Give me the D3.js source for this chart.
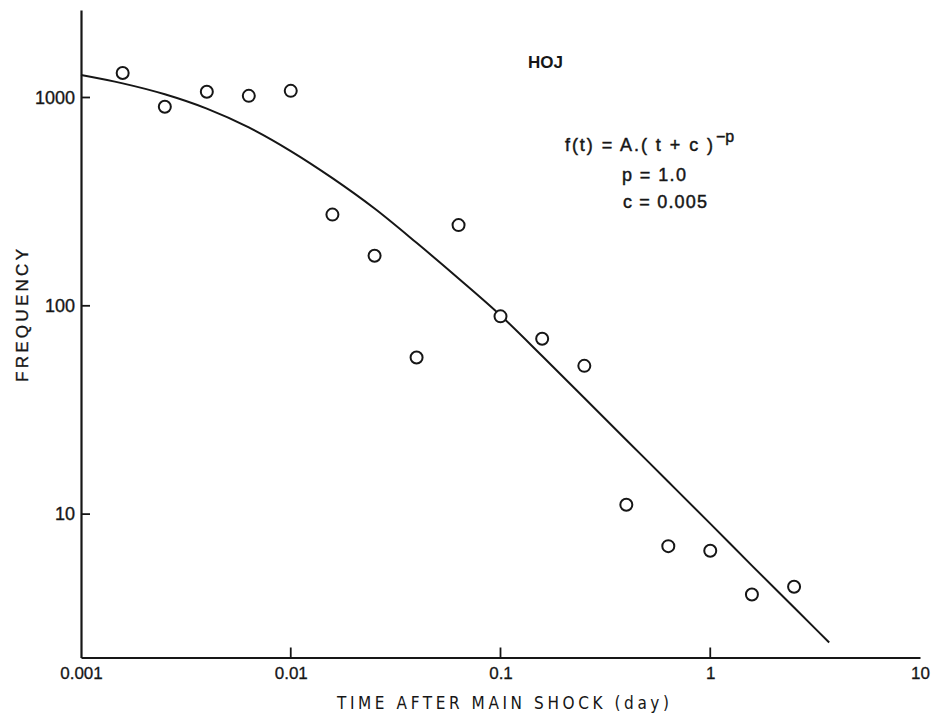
<!DOCTYPE html>
<html>
<head>
<meta charset="utf-8">
<script src="https://cdn.jsdelivr.net/npm/d3@7"></script>
<style>
  html, body { margin: 0; padding: 0; background: #fff; }
  svg { display: block; }
  text { fill: #161616; font-family: "Liberation Sans", Arial, sans-serif; }
</style>
</head>
<body>
<svg id="chart" width="931" height="716"></svg>
<script>
// ---- data ----
const timeDays = [0.00158, 0.00251, 0.00398, 0.00631, 0.01, 0.0158, 0.0251, 0.0398, 0.0631, 0.1,
                  0.158, 0.251, 0.398, 0.631, 1.0, 1.58, 2.51];
const frequency = [1310, 902, 1065, 1018, 1076, 274, 174, 56.5, 244, 89,
                   69.5, 51.5, 11.1, 7.02, 6.67, 4.11, 4.48];

// fitted curve f(t) = A (t + c)^-p
const curveTime = [0.001, 0.00158, 0.00251, 0.00398, 0.00631, 0.01, 0.0158, 0.0251, 0.0398, 0.0631,
                   0.1, 0.158, 0.251, 0.398, 0.631, 1.0, 1.58, 2.51, 3.69];
const curveFreq = [1282, 1169, 1036, 884, 718, 553, 410, 293, 200.6, 135.3,
                   90.0, 57.4, 36.1, 22.7, 14.3, 9.0, 5.66, 3.56, 2.42];

const xTickValues = [0.001, 0.01, 0.1, 1, 10];
const xTickLabels = ["0.001", "0.01", "0.1", "1", "10"];
const yTickValues = [10, 100, 1000];
const yTickLabels = ["10", "100", "1000"];

const titleText = "HOJ";
const formulaMain = "f(t) = A.( t + c )";
const formulaExp = "\u2212p";
const paramP = "p = 1.0";
const paramC = "c = 0.005";
const xAxisTitle = "TIME AFTER MAIN SHOCK (day)";
const yAxisTitle = "FREQUENCY";

// ---- scales ----
const svg = d3.select("#chart");
const x = d3.scaleLog().domain([0.001, 10]).range([81, 920]);
const y = d3.scaleLog().domain([2.05, 2630]).range([657.5, 10]);

const ink = "#161616";

// ---- axes ----
const xAxis = d3.axisBottom(x)
  .tickValues(xTickValues)
  .tickSize(0)
  .tickPadding(0)
  .tickFormat((d, i) => xTickLabels[i]);
const gx = svg.append("g").attr("transform", `translate(0,${y(2.05)})`).call(xAxis);
gx.select(".domain").attr("stroke", ink).attr("stroke-width", 2.2);
gx.selectAll(".tick line").remove();
gx.selectAll(".tick text")
  .attr("y", 21.5).attr("dy", 0)
  .style("font-size", "17px")
  .style("font-family", "'Liberation Sans', Arial, sans-serif")
  .attr("fill", ink).attr("stroke", ink).attr("stroke-width", 0.3);
// inward tick marks on x axis (skip the corner and far end)
svg.append("g").selectAll("line")
  .data(xTickValues.filter(v => v > 0.001 && v < 10))
  .join("line")
  .attr("x1", d => x(d)).attr("x2", d => x(d))
  .attr("y1", y(2.05)).attr("y2", y(2.05) - 10)
  .attr("stroke", ink).attr("stroke-width", 1.8);

const yAxis = d3.axisLeft(y)
  .tickValues(yTickValues)
  .tickSize(0)
  .tickPadding(6)
  .tickFormat((d, i) => yTickLabels[i]);
const gy = svg.append("g").attr("transform", `translate(${x(0.001)},0)`).call(yAxis);
gy.select(".domain").attr("stroke", ink).attr("stroke-width", 2.2);
gy.selectAll(".tick line").remove();
gy.selectAll(".tick text")
  .style("font-size", "18px")
  .style("font-family", "'Liberation Sans', Arial, sans-serif")
  .attr("fill", ink).attr("stroke", ink).attr("stroke-width", 0.35);
// inward ticks on y axis
svg.append("g").selectAll("line")
  .data(yTickValues)
  .join("line")
  .attr("x1", x(0.001)).attr("x2", x(0.001) + 9)
  .attr("y1", d => y(d)).attr("y2", d => y(d))
  .attr("stroke", ink).attr("stroke-width", 1.8);

// ---- fitted curve ----
const line = d3.line()
  .x((d, i) => x(curveTime[i]))
  .y((d, i) => y(curveFreq[i]))
  .curve(d3.curveMonotoneX);
svg.append("path")
  .attr("d", line(curveTime))
  .attr("fill", "none")
  .attr("stroke", ink)
  .attr("stroke-width", 2);

// ---- observations ----
svg.append("g").selectAll("circle")
  .data(timeDays)
  .join("circle")
  .attr("cx", d => x(d))
  .attr("cy", (d, i) => y(frequency[i]))
  .attr("r", 6)
  .attr("fill", "#fff")
  .attr("stroke", ink)
  .attr("stroke-width", 2);

// ---- texts ----
svg.append("text")
  .attr("x", 528).attr("y", 68)
  .attr("textLength", 35).attr("lengthAdjust", "spacingAndGlyphs")
  .style("font-size", "17px").style("font-weight", "bold")
  .text(titleText);

const f = svg.append("text").attr("x", 565).attr("y", 150.5)
  .style("font-size", "18px").attr("stroke", ink).attr("stroke-width", 0.45);
f.append("tspan").text(formulaMain)
  .attr("textLength", 148).attr("lengthAdjust", "spacing");
f.append("tspan").attr("dy", -9).attr("dx", 1).style("font-size", "16px").text(formulaExp);

svg.append("text").attr("x", 622).attr("y", 180.5)
  .attr("textLength", 64).attr("lengthAdjust", "spacing")
  .attr("stroke", ink).attr("stroke-width", 0.45)
  .style("font-size", "18px").text(paramP);
svg.append("text").attr("x", 623).attr("y", 208)
  .attr("textLength", 84).attr("lengthAdjust", "spacing")
  .attr("stroke", ink).attr("stroke-width", 0.45)
  .style("font-size", "18px").text(paramC);

svg.append("text")
  .attr("x", 337).attr("y", 709)
  .attr("textLength", 332).attr("lengthAdjust", "spacing")
  .style("font-size", "17px")
  .style("font-family", "'Liberation Sans Narrow', 'DejaVu Sans Condensed', sans-serif")
  .text(xAxisTitle);

svg.append("text")
  .attr("transform", "translate(28,382) rotate(-90)")
  .attr("x", 0).attr("y", 0)
  .attr("textLength", 133).attr("lengthAdjust", "spacing")
  .attr("stroke", ink).attr("stroke-width", 0.35)
  .style("font-size", "17px")
  .text(yAxisTitle);
</script>
</body>
</html>
